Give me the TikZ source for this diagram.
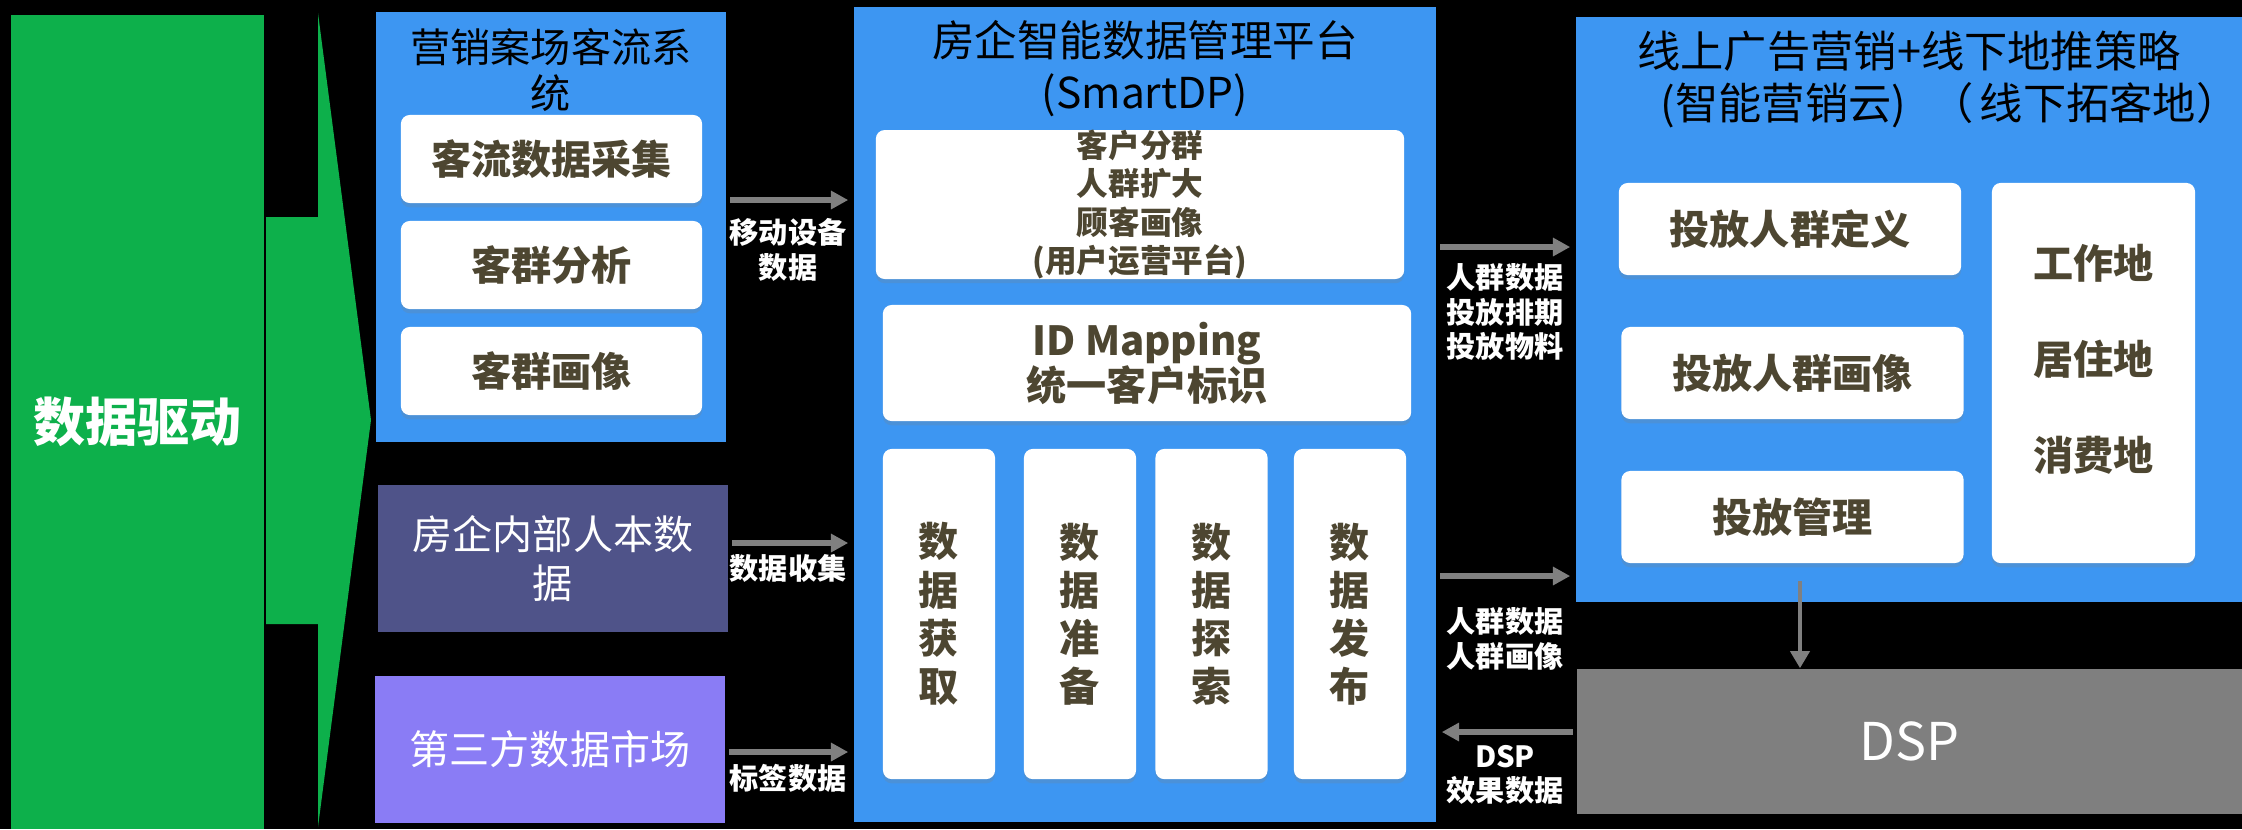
\documentclass[tikz,border=0pt]{standalone}
\usepackage{fontspec}
\setmainfont{Noto Sans CJK SC}
\usepackage{xcolor}
\usepackage{tikz}
\usetikzlibrary{arrows.meta,shadows}

\definecolor{drivegreen}{HTML}{0DB04B}
\definecolor{panelblue}{HTML}{3D96F2}
\definecolor{innerslate}{HTML}{4F5389}
\definecolor{thirdpurple}{HTML}{8A7CF5}
\definecolor{dspgray}{HTML}{7F7F7F}
\definecolor{boxtext}{HTML}{4D4631}
\definecolor{linkgray}{HTML}{808080}

\tikzset{
  panel/.style={fill=panelblue, inner sep=0pt},
  card/.style={fill=white, rounded corners=2.5pt, inner sep=0pt, text=boxtext, align=center,
    drop shadow={shadow xshift=0pt, shadow yshift=-1.2pt, opacity=0.22}},
  cardfont/.style={font=\fontsize{11.4pt}{13.7pt}\selectfont\bfseries},
  headline/.style={inner sep=0pt, align=center, text=black},
  feed/.style={draw=linkgray, line width=1.7pt, shorten <=1pt, shorten >=1.4pt,
    -{Triangle[length=4.9pt,width=5pt]}},
  flowtag/.style={inner sep=0pt, align=center, text=white, font=\fontsize{8.3pt}{9.8pt}\selectfont\bfseries}
}

\begin{document}
\begin{tikzpicture}[x=0.01cm, y=-0.01cm]
			%基底
			\fill[black] (0,0) rectangle (2242,829);
			\useasboundingbox (0,0) rectangle (2242,829);
			
			%数据驱动
			\node[fill=drivegreen, inner sep=0pt, minimum width=2.53cm, minimum height=8.14cm, text=white,
			  font=\fontsize{14.8pt}{16pt}\selectfont\bfseries] (drive) at (137.5,422) {数据驱动};
			\fill[drivegreen] (266,217) -- (318,217) -- (318,13) -- (371,420) -- (318,827) -- (318,624) -- (266,624) -- cycle;
			
			%营销案场客流系统
			\node[panel, minimum width=3.5cm, minimum height=4.3cm] (flowsys) at (551,227) {};
			\node[headline, font=\fontsize{11.4pt}{13pt}\selectfont] (flowtitle) at (551,70) {营销案场客流系\\统};
			\node[card, cardfont, minimum width=3.01cm, minimum height=0.88cm] (collect) at (551.5,159) {客流数据采集};
			\node[card, cardfont, minimum width=3.01cm, minimum height=0.88cm] (analyze) at (551.5,265) {客群分析};
			\node[card, cardfont, minimum width=3.01cm, minimum height=0.88cm] (portrait) at (551.5,371) {客群画像};
			
			%内部数据与第三方
			\node[fill=innerslate, inner sep=0pt, minimum width=3.5cm, minimum height=1.47cm, text=white, align=center,
			  font=\fontsize{11.4pt}{13.7pt}\selectfont] (hrdata) at (553,558.5) {房企内部人本数\\据};
			\node[fill=thirdpurple, inner sep=0pt, minimum width=3.5cm, minimum height=1.47cm, text=white,
			  font=\fontsize{11.4pt}{13.7pt}\selectfont] (market) at (550,749.5) {第三方数据市场};
			
			%SmartDP平台
			\node[panel, minimum width=5.82cm, minimum height=8.15cm] (smartdp) at (1145,414.5) {};
			\node[headline, font=\fontsize{12.1pt}{14.8pt}\selectfont] (dptitle) at (1145,69) {房企智能数据管理平台\\(SmartDP)};
			\node[card, minimum width=5.28cm, minimum height=1.45cm, font=\fontsize{9pt}{10.9pt}\selectfont\bfseries] (crowd) at (1140,204.5)
			  {客户分群\\人群扩大\\顾客画像\\(用户运营平台)};
			\node[card, minimum width=5.28cm, minimum height=1.16cm, font=\fontsize{11.4pt}{12.8pt}\selectfont\bfseries] (idmap) at (1147,363)
			  {ID Mapping\\统一客户标识};
			\node[card, cardfont, minimum width=1.12cm, minimum height=3.3cm] (acquire) at (939,614) {数\\据\\获\\取};
			\node[card, cardfont, minimum width=1.12cm, minimum height=3.3cm] (prepare) at (1080,614) {数\\据\\准\\备};
			\node[card, cardfont, minimum width=1.12cm, minimum height=3.3cm] (explore) at (1211.5,614) {数\\据\\探\\索};
			\node[card, cardfont, minimum width=1.12cm, minimum height=3.3cm] (publish) at (1350,614) {数\\据\\发\\布};
			
			%线上线下营销
			\node[panel, minimum width=6.66cm, minimum height=5.85cm] (marketing) at (1909,309.5) {};
			\node[headline, font=\fontsize{12.3pt}{14.8pt}\selectfont] (mkttitle) at (1909,79)
			  {线上广告营销+线下地推策略\\\hspace*{1.9em}(智能营销云)\hspace{0.55em}（\hspace{0.15em}线下拓客地）};
			\node[card, cardfont, minimum width=3.42cm, minimum height=0.92cm] (target) at (1790,229) {投放人群定义};
			\node[card, cardfont, minimum width=3.42cm, minimum height=0.92cm] (tportrait) at (1792.5,373) {投放人群画像};
			\node[card, cardfont, minimum width=3.42cm, minimum height=0.92cm] (manage) at (1792.5,517) {投放管理};
			\node[card, minimum width=2.03cm, minimum height=3.8cm] (places) at (2093.5,373) {};
			\node[inner sep=0pt, align=center, text=boxtext, font=\fontsize{11.4pt}{27.3pt}\selectfont\bfseries] (placetxt) at (2093.5,359)
			  {工作地\\居住地\\消费地};
			
			%DSP
			\node[fill=dspgray, inner sep=0pt, minimum width=6.65cm, minimum height=1.45cm, text=white,
			  font=\fontsize{14.8pt}{16pt}\selectfont] (dsp) at (1909.5,741.5) {DSP};
			
			%数据流向
			\coordinate (lv1) at (0,200);
			\coordinate (lv2) at (0,543);
			\coordinate (lv3) at (0,752);
			\coordinate (lv4) at (0,247);
			\coordinate (lv5) at (0,576);
			\coordinate (lv6) at (0,732);
			\coordinate (vx) at (1800,0);
			\draw[feed] (flowsys.east |- lv1) -- (smartdp.west |- lv1);
			\draw[feed] (hrdata.east |- lv2) -- (smartdp.west |- lv2);
			\draw[feed] (market.east |- lv3) -- (smartdp.west |- lv3);
			\draw[feed] (smartdp.east |- lv4) -- (marketing.west |- lv4);
			\draw[feed] (smartdp.east |- lv5) -- (marketing.west |- lv5);
			\draw[feed] (dsp.west |- lv6) -- (smartdp.east |- lv6);
			\draw[feed, line width=1.2pt, shorten <=5pt, shorten >=0pt, -{Triangle[length=4.9pt,width=5.4pt]}] (manage.south -| vx) -- (dsp.north -| vx);
			
			\node[flowtag] (mobilelbl) at (788,250) {移动设备\\数据};
			\node[flowtag] (collectlbl) at (788,568) {数据收集};
			\node[flowtag] (taglbl) at (788,778) {标签数据};
			\node[flowtag] (pushlbl) at (1505,312) {人群数据\\投放排期\\投放物料};
			\node[flowtag] (backlbl) at (1505,639) {人群数据\\人群画像};
			\node[flowtag] (effectlbl) at (1505,775) {DSP\\效果数据};
		\end{tikzpicture}
\end{document}
